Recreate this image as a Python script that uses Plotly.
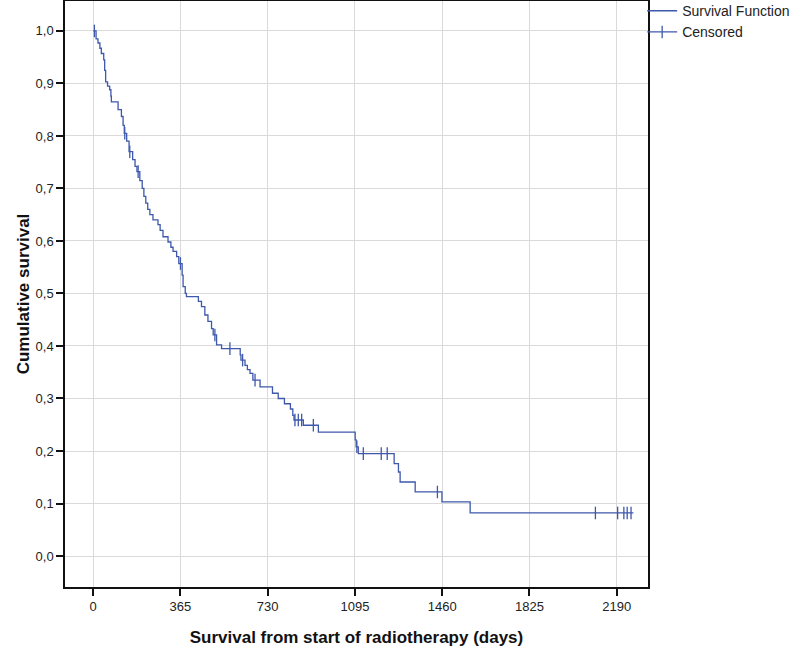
import numpy as np
import plotly.graph_objects as go

# Kaplan-Meier event times (days) and survival after each event
event_days = [12, 20, 28, 34, 44, 48, 52, 60, 69, 74, 76, 104, 118, 125, 130, 140, 150,
              165, 175, 183, 195, 205, 212, 220, 228, 237, 250, 271, 280, 292, 313, 325,
              334, 349, 358, 372, 376, 385, 390, 440, 453, 467, 480, 495, 502, 516, 537,
              615, 618, 635, 645, 656, 668, 698, 750, 774, 800, 825, 835, 840, 879, 942,
              1096, 1100, 1109, 1259, 1277, 1284, 1347, 1459, 1577]
event_surv = [0.985, 0.977, 0.967, 0.957, 0.945, 0.925, 0.903, 0.895, 0.888, 0.876, 0.865,
              0.850, 0.837, 0.820, 0.805, 0.790, 0.770, 0.755, 0.742, 0.732, 0.715, 0.700,
              0.685, 0.672, 0.660, 0.650, 0.640, 0.631, 0.620, 0.608, 0.598, 0.588, 0.580,
              0.570, 0.557, 0.535, 0.513, 0.500, 0.494, 0.485, 0.475, 0.459, 0.447, 0.433,
              0.421, 0.402, 0.395, 0.383, 0.373, 0.363, 0.355, 0.348, 0.335, 0.322, 0.310,
              0.300, 0.290, 0.280, 0.268, 0.259, 0.249, 0.236, 0.221, 0.208, 0.195, 0.176,
              0.160, 0.141, 0.122, 0.103, 0.082]
last_followup = 2260
censor_days = [5, 132, 153, 188, 365, 509, 572, 625, 677, 844, 858, 872, 921, 1103, 1130,
               1205, 1230, 1440, 2101, 2194, 2220, 2234, 2250]

x_tickvals = [0, 365, 730, 1095, 1460, 1825, 2190]
x_ticktext = ["0", "365", "730", "1095", "1460", "1825", "2190"]
y_tickvals = [0.0, 0.1, 0.2, 0.3, 0.4, 0.5, 0.6, 0.7, 0.8, 0.9, 1.0]
y_ticktext = ["0,0", "0,1", "0,2", "0,3", "0,4", "0,5", "0,6", "0,7", "0,8", "0,9", "1,0"]

COLOR = "#3e58ac"

step_x = [0] + event_days + [last_followup]
step_y = [1.0] + event_surv + [event_surv[-1]]

ev = np.array(event_days)
sv = np.array([1.0] + event_surv)
cx, cy = [], []
for d in censor_days:
    idx = np.searchsorted(ev, d, side="right")
    cx += [d, None]
    cy += [float(sv[idx]), None]

fig = go.Figure()
fig.add_trace(go.Scatter(
    x=step_x, y=step_y, mode="lines", line=dict(color=COLOR, width=1.3, shape="hv"),
    name="Survival Function"))
fig.add_trace(go.Scatter(
    x=cx, y=cy, mode="lines+markers", connectgaps=False,
    line=dict(color=COLOR, width=1.3),
    marker=dict(symbol="line-ns", size=9, line=dict(color=COLOR, width=1.3)),
    name="Censored"))

fig.update_layout(
    width=800, height=653,
    margin=dict(l=65, r=152, t=1, b=66, autoexpand=False),
    paper_bgcolor="white", plot_bgcolor="white",
    font=dict(family="Liberation Sans, Arial, sans-serif", color="#222222", size=13),
    showlegend=True,
    legend=dict(x=0.99, y=1.01, xanchor="left", yanchor="top", itemwidth=30,
                font=dict(size=14, color="#222222"), bgcolor="rgba(0,0,0,0)",
                tracegroupgap=0, traceorder="normal"),
    xaxis=dict(range=[-118, 2321], tickvals=x_tickvals, ticktext=x_ticktext,
               showgrid=True, gridcolor="#dadada", gridwidth=1, zeroline=False,
               showline=True, linecolor="#111111", linewidth=1.5, mirror=True,
               ticks="outside", ticklen=7, tickcolor="#111111", tickwidth=1.5,
               tickfont=dict(size=13),
               title=dict(text="<b>Survival from start of radiotherapy (days)</b>",
                          font=dict(size=17, color="#111111"), standoff=18)),
    yaxis=dict(range=[-0.059, 1.057], tickvals=y_tickvals, ticktext=y_ticktext,
               showgrid=True, gridcolor="#dadada", gridwidth=1, zeroline=False,
               showline=True, linecolor="#111111", linewidth=1.5, mirror=True,
               ticks="outside", ticklen=7, tickcolor="#111111", tickwidth=1.5,
               tickfont=dict(size=13),
               title=dict(text="<b>Cumulative survival</b>",
                          font=dict(size=17, color="#111111"), standoff=2)),
)

fig.write_html("out.html", config={"displayModeBar": False},
               post_script="document.body.style.margin='0';")
